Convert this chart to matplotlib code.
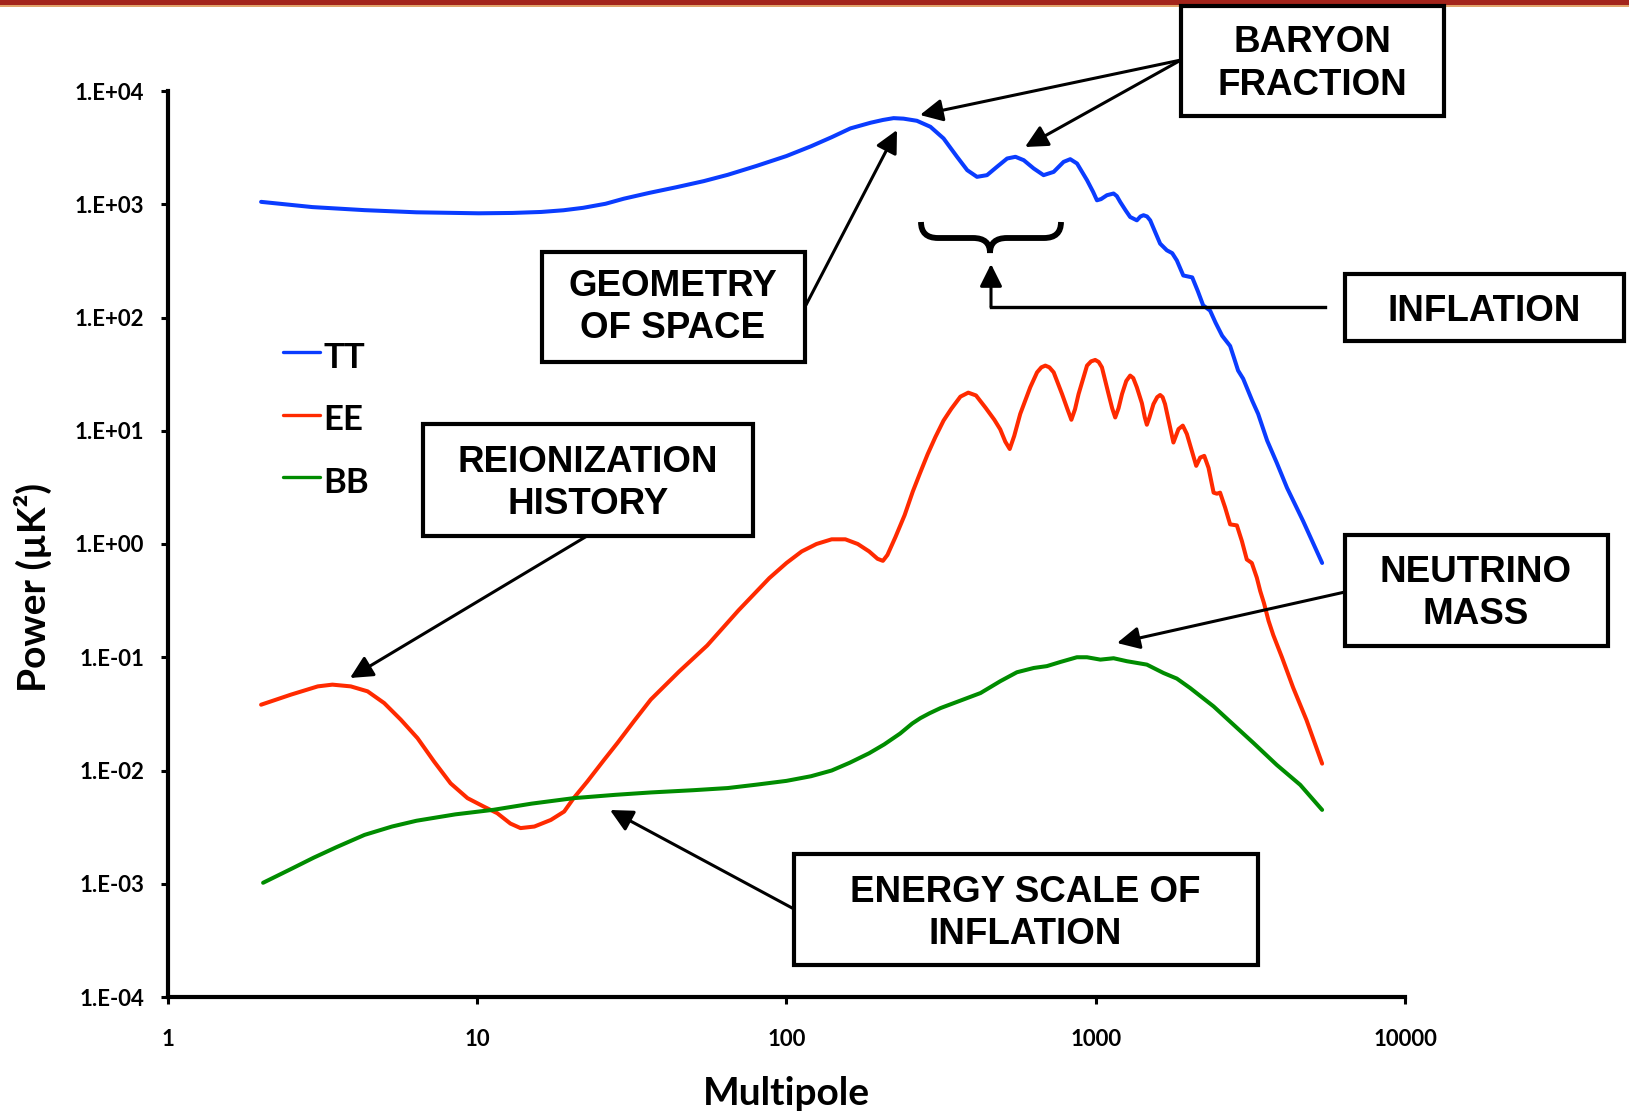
import matplotlib.pyplot as plt
from matplotlib.lines import Line2D
from matplotlib.patches import Rectangle, FancyArrowPatch, PathPatch
from matplotlib.path import Path

# CMB power spectra (multipole, power in uK^2)
ell_tt = [2, 2.93, 4.32, 6.36, 10.1, 13, 16.1, 19, 22, 26, 29.8, 36, 44, 54, 64.6,
          80, 100, 120, 140, 161, 187, 205, 222, 239, 264, 292, 322, 356, 384, 413,
          445, 479, 517, 550, 585, 630, 678, 731, 787, 827, 870, 937, 980, 1009, 1040,
          1087, 1142, 1170, 1200, 1250, 1292, 1358, 1395, 1427, 1465, 1500, 1560, 1615, 1698, 1767,
          1829, 1919, 2051, 2140, 2225, 2343, 2440, 2563, 2720, 2800, 2886, 2997, 3206, 3350, 3582,
          3850, 4155, 4680, 5395]
tt = [1050, 944, 887, 849, 832, 838, 855, 885, 930, 1010, 1120, 1260, 1413, 1600, 1820,
      2180, 2666, 3250, 3910, 4677, 5245, 5550, 5760, 5700, 5458, 4830, 3812, 2624, 2000, 1746,
      1807, 2138, 2535, 2624, 2449, 2070, 1807, 1931, 2366, 2500, 2290, 1632, 1290, 1084, 1110,
      1202, 1244, 1180, 1047, 880, 772, 721, 780, 800, 780, 721, 560, 449, 392, 370,
      319, 235, 226, 170, 128, 115, 90, 69, 56, 44, 34, 28.8, 18.4, 14.1, 8.2,
      5.2, 3.13, 1.6, 0.68]

ell_ee = [2.0, 2.5, 3.05, 3.4, 3.9, 4.42, 5.0, 5.66, 6.41, 7.25, 8.2, 9.3, 10.5, 11.6, 12.8,
          13.8, 15.3, 17.3, 19.1, 20.5, 22.7, 25.7, 28.4, 32.1, 36.4, 45, 55.4, 70, 88, 100,
          112, 125, 140, 155, 170, 185, 197, 205, 212, 225, 241, 256, 270, 286, 303,
          322, 341, 365, 387, 410, 440, 470, 491, 510, 527, 545, 570, 614, 646, 667,
          687, 708, 731, 778, 810, 834, 857, 880, 937, 966, 996, 1022, 1047, 1100, 1130,
          1156, 1185, 1216, 1255, 1292, 1322, 1358, 1410, 1440, 1463, 1490, 1537, 1580, 1615, 1645,
          1675, 1783, 1852, 1912, 1971, 2113, 2177, 2243, 2316, 2405, 2465, 2524, 2620, 2720, 2860,
          2969, 3079, 3196, 3318, 3403, 3500, 3620, 3750, 4000, 4347, 4800, 5395]
ee = [0.0381, 0.0468, 0.0553, 0.0573, 0.0553, 0.05, 0.0394, 0.0281, 0.0193, 0.012, 0.0077, 0.0057, 0.0048, 0.0042, 0.0034,
      0.0031, 0.0032, 0.00366, 0.00434, 0.0057, 0.008, 0.0124, 0.0175, 0.0272, 0.0423, 0.075, 0.127, 0.26, 0.5, 0.68,
      0.86, 1.0, 1.1, 1.1, 1.0, 0.86, 0.74, 0.71, 0.8, 1.15, 1.8, 2.9, 4.2, 6.2, 8.8,
      12.3, 15.6, 20, 21.7, 20.5, 16, 12.5, 10.3, 8, 6.9, 9, 14.1, 24.2, 32.8, 36.3,
      37.6, 36.3, 32.8, 21.1, 15.5, 12.5, 15.5, 21.1, 37.6, 41, 42.2, 40.5, 36.3, 21.1, 15.8,
      13.1, 15.8, 21.1, 27.5, 30.7, 29.2, 24.2, 17.5, 13.2, 11.3, 13, 17.2, 19.8, 20.7, 19.8,
      17.2, 7.87, 10.35, 11.1, 9.35, 4.9, 5.8, 6.0, 4.7, 2.84, 2.78, 2.84, 2.1, 1.49, 1.46,
      1.06, 0.73, 0.68, 0.504, 0.384, 0.3, 0.21, 0.157, 0.1, 0.054, 0.028, 0.0115]

ell_bb = [2.03, 2.5, 2.96, 3.5, 4.32, 5.3, 6.36, 8.5, 11.3, 15, 20.5, 28, 36.4, 50, 64.6,
          80, 100, 120, 140, 160, 185, 207, 233, 255, 271, 290, 315, 365, 424, 491,
          556, 630, 695, 768, 869, 937, 1035, 1142, 1262, 1463, 1656, 1829, 2019, 2405, 2788,
          3236, 3849, 4583, 5395]
bb = [0.00102, 0.00135, 0.0017, 0.0021, 0.0027, 0.0032, 0.0036, 0.0041, 0.0045, 0.0051, 0.0057, 0.0061, 0.0064, 0.0067, 0.007,
      0.0075, 0.0081, 0.0089, 0.01, 0.0117, 0.0142, 0.017, 0.0212, 0.026, 0.029, 0.032, 0.0356, 0.0414, 0.0483, 0.0614,
      0.0737, 0.0804, 0.0835, 0.0908, 0.1, 0.1, 0.0953, 0.098, 0.0922, 0.0861, 0.0726, 0.0648, 0.0535, 0.0368, 0.0254,
      0.0175, 0.0112, 0.00747, 0.00449]

names = ['TT', 'EE', 'BB']
colors = ['#0a3cff', '#ff2a00', '#008c00']

x_ticks = [1, 10, 100, 1000, 10000]
x_tick_labels = ['1', '10', '100', '1000', '10000']
y_ticks = [1e-4, 1e-3, 1e-2, 1e-1, 1e0, 1e1, 1e2, 1e3, 1e4]
y_tick_labels = ['1.E-04', '1.E-03', '1.E-02', '1.E-01', '1.E+00', '1.E+01', '1.E+02', '1.E+03', '1.E+04']

W, H = 1629, 1116


def fpos(x, y):
    # slide pixel -> figure fraction
    return x / W, 1 - y / H


plt.rcParams['font.family'] = ['Lato', 'DejaVu Sans']
plt.rcParams['font.weight'] = 'bold'

fig = plt.figure(figsize=(W / 100, H / 100), dpi=100)
ax = fig.add_axes([168 / W, 1 - 997 / H, (1405 - 168) / W, (997 - 91) / H])

for ell, power, c in zip([ell_tt, ell_ee, ell_bb], [tt, ee, bb], colors):
    ax.plot(ell, power, color=c, lw=2.9, solid_joinstyle='round', solid_capstyle='round')

ax.set_xscale('log')
ax.set_yscale('log')
ax.set_xlim(1, 10000)
ax.set_ylim(1e-4, 1e4)
ax.set_xticks(x_ticks, x_tick_labels)
ax.set_yticks(y_ticks, y_tick_labels)
ax.minorticks_off()
ax.tick_params(direction='out', length=5, width=2.2, labelsize=16)
ax.tick_params(axis='x', pad=18)
ax.tick_params(axis='y', pad=12)
for s in ['top', 'right']:
    ax.spines[s].set_visible(False)
for s in ['left', 'bottom']:
    ax.spines[s].set_linewidth(3)

fig.text(*fpos(786, 1105), 'Multipole', ha='center', va='baseline', size=28)
fig.text(*fpos(33, 587), 'Power (µK²)', ha='center', va='center', rotation=90, size=28)

# slide title stripe
fig.add_artist(Rectangle(fpos(0, 5), 1, 5 / H, transform=fig.transFigure, color='#a3241b', lw=0))
fig.add_artist(Rectangle(fpos(0, 6.5), 1, 1.5 / H, transform=fig.transFigure, color='#e0a46a', lw=0))

# legend
for i, (name, c) in enumerate(zip(names, colors)):
    ly = 352 + i * 62.5
    fig.add_artist(Line2D([283 / W, 320 / W], [1 - ly / H, 1 - ly / H], transform=fig.transFigure,
                          color=c, lw=2.4, solid_capstyle='round'))
    fig.text(*fpos(323, ly + 16), name, ha='left', va='baseline', size=25)

# annotation boxes: (left, top, right, bottom, lines, center x, baselines)
boxes = [
    (1181, 6, 1444, 116, ['BARYON', 'FRACTION'], 1312, [51.5, 95]),
    (542, 252, 805, 362, ['GEOMETRY', 'OF SPACE'], 673, [296.5, 338.5]),
    (1345, 274, 1624, 341, ['INFLATION'], 1484, [321.5]),
    (423, 424, 753, 536, ['REIONIZATION', 'HISTORY'], 588, [472, 514.5]),
    (1345, 535, 1608, 646, ['NEUTRINO', 'MASS'], 1476, [582, 624]),
    (794, 854, 1258, 965, ['ENERGY SCALE OF', 'INFLATION'], 1025, [902, 944]),
]
for x0, y0, x1, y1, lines, cx, bases in boxes:
    fig.add_artist(Rectangle(fpos(x0, y1), (x1 - x0) / W, (y1 - y0) / H, transform=fig.transFigure,
                             facecolor='white', edgecolor='black', lw=3, zorder=5))
    for line, by in zip(lines, bases):
        fig.text(*fpos(cx, by), line, ha='center', va='baseline', family='Liberation Sans',
                 weight='bold', size=26.5, zorder=6)

arrows = [
    ((806, 305), (897, 130)),
    ((1181, 60), (920, 115)),
    ((1181, 60), (1025, 147)),
    ((587, 536), (350, 678)),
    ((1345, 592), (1117, 643)),
    ((794, 909), (610, 810)),
    ((991, 307), (991, 264)),
]
for a, b in arrows:
    fig.add_artist(FancyArrowPatch(fpos(*a), fpos(*b), transform=fig.transFigure, arrowstyle='-|>',
                                   mutation_scale=34, lw=2.2, color='black', shrinkA=0, shrinkB=0))

# elbow connector from the INFLATION box
fig.add_artist(Line2D([1325 / W, 991 / W], [1 - 307 / H, 1 - 307 / H], transform=fig.transFigure,
                      color='black', lw=2.4))

# curly brace over the first acoustic troughs
brace = [(921, 222), (921, 238), (938, 238), (973, 238), (990, 238), (990, 253),
         (990, 238), (1007, 238), (1044, 238), (1061, 238), (1061, 222)]
codes = [Path.MOVETO, Path.CURVE3, Path.CURVE3, Path.LINETO, Path.CURVE3, Path.CURVE3,
         Path.CURVE3, Path.CURVE3, Path.LINETO, Path.CURVE3, Path.CURVE3]
brace_path = Path([fpos(x, y) for x, y in brace], codes)
fig.add_artist(PathPatch(brace_path, transform=fig.transFigure, facecolor='none',
                         edgecolor='black', lw=4.2))

fig.savefig('out.png', dpi=100)
